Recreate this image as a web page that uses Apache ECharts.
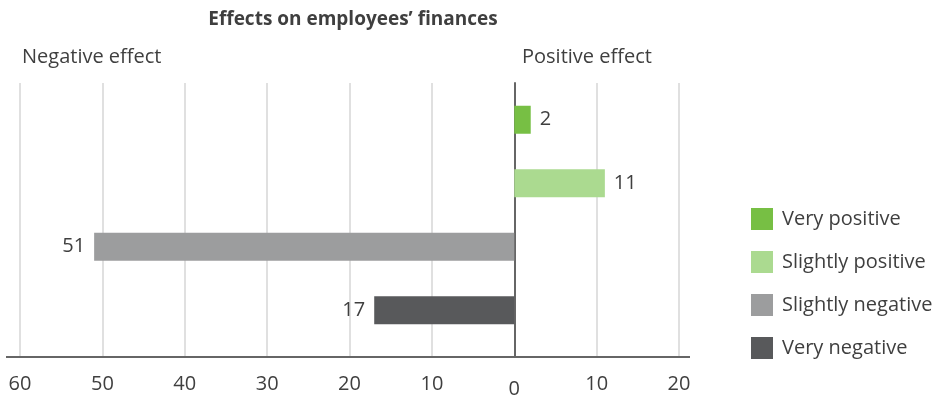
<!DOCTYPE html>
<html>
<head>
<meta charset="utf-8">
<script src="https://cdn.jsdelivr.net/npm/echarts@6/dist/echarts.min.js"></script>
<style>
  html, body { margin: 0; padding: 0; background: #fff; }
  #main { width: 936px; height: 398px; }
</style>
</head>
<body>
<div id="main"></div>
<script>
/* 数据 */
var categories = ['Very negative', 'Slightly negative', 'Slightly positive', 'Very positive'];
var seriesNames = ['Very positive', 'Slightly positive', 'Slightly negative', 'Very negative'];
var seriesValues = [2, 11, -51, -17];
var seriesColors = ['#77bf44', '#abda90', '#9c9d9e', '#58595b'];
var axisMin = -60, axisMax = 20, axisStep = 10;

var textColor = '#3f3f3f';
var font = 'Open Sans';

var myChart = echarts.init(document.getElementById('main'));

/* 每个系列只在自己的类别上有值 */
var series = seriesNames.map(function (name, i) {
  var data = categories.map(function (c) {
    return c === name ? seriesValues[i] : '-';
  });
  var neg = seriesValues[i] < 0;
  return {
    name: name,
    type: 'bar',
    stack: 'all',
    xAxisIndex: 1,
    yAxisIndex: 1,
    barWidth: 28,
    data: data,
    itemStyle: { color: seriesColors[i] },
    label: {
      show: true,
      position: neg ? 'left' : 'right',
      distance: 9,
      color: textColor,
      fontFamily: font,
      fontSize: 20,
      formatter: function (p) { return Math.abs(p.value); }
    }
  };
});

var option = {
  animation: false,
  title: {
    text: 'Effects on employees\u2019 finances',
    left: 348,
    textAlign: 'center',
    top: 5,
    textStyle: { fontFamily: font, fontSize: 19, fontWeight: 'bold', color: textColor }
  },
  legend: {
    orient: 'vertical',
    left: 746,
    top: 203,
    itemWidth: 22,
    itemHeight: 22,
    itemGap: 21,
    icon: 'rect',
    data: seriesNames,
    textStyle: { fontFamily: font, fontSize: 20, color: textColor, padding: [0, 0, 0, 4] }
  },
  grid: [
    // 背景网格 + 坐标轴
    { left: 20, right: 257, top: 83, bottom: 41, outerBoundsMode: 'none' },
    // 柱子
    { left: 20, right: 257, top: 88, bottom: 56, outerBoundsMode: 'none' }
  ],
  xAxis: [{
    gridIndex: 0,
    type: 'value',
    min: axisMin,
    max: axisMax,
    interval: axisStep,
    axisLine: { show: true, lineStyle: { color: '#666', width: 2 } },
    axisTick: { show: false },
    splitLine: { show: true, lineStyle: { color: '#d6d6d6', width: 1.5 } },
    axisLabel: {
      margin: 17,
      color: textColor,
      fontFamily: font,
      fontSize: 20,
      formatter: function (v) { return v === 0 ? '{z|0}' : String(Math.abs(v)); },
      rich: { z: { fontFamily: font, fontSize: 20, color: textColor, padding: [5, 0, 0, 0] } }
    }
  }, {
    gridIndex: 1,
    type: 'value',
    min: axisMin,
    max: axisMax,
    show: false
  }],
  yAxis: [{
    gridIndex: 0,
    type: 'category',
    data: categories,
    axisLine: { show: true, onZero: true, lineStyle: { color: '#666', width: 2 } },
    axisTick: { show: false },
    axisLabel: { show: false },
    splitLine: { show: false }
  }, {
    gridIndex: 1,
    type: 'category',
    data: categories,
    show: false
  }],
  graphic: [{
    type: 'text',
    left: 22,
    top: 47,
    style: { text: 'Negative effect', fill: textColor, font: '20px "Open Sans"' }
  }, {
    type: 'text',
    left: 522,
    top: 47,
    style: { text: 'Positive effect', fill: textColor, font: '20px "Open Sans"' }
  }],
  series: series
};
myChart.setOption(option);

/* 底部坐标轴线略微超出网格 */
var p0 = myChart.convertToPixel({ gridIndex: 0 }, [axisMin, 0]);
var p1 = myChart.convertToPixel({ gridIndex: 0 }, [axisMax, 0]);
var rect = myChart.getModel().getComponent('grid', 0).coordinateSystem.getRect();
var yb = rect.y + rect.height;
myChart.setOption({
  graphic: option.graphic.concat([{
    type: 'line',
    shape: { x1: p0[0] - 14, y1: yb, x2: p1[0] + 11, y2: yb },
    style: { stroke: '#666', lineWidth: 2 },
    z: 10
  }])
});
</script>
</body>
</html>
